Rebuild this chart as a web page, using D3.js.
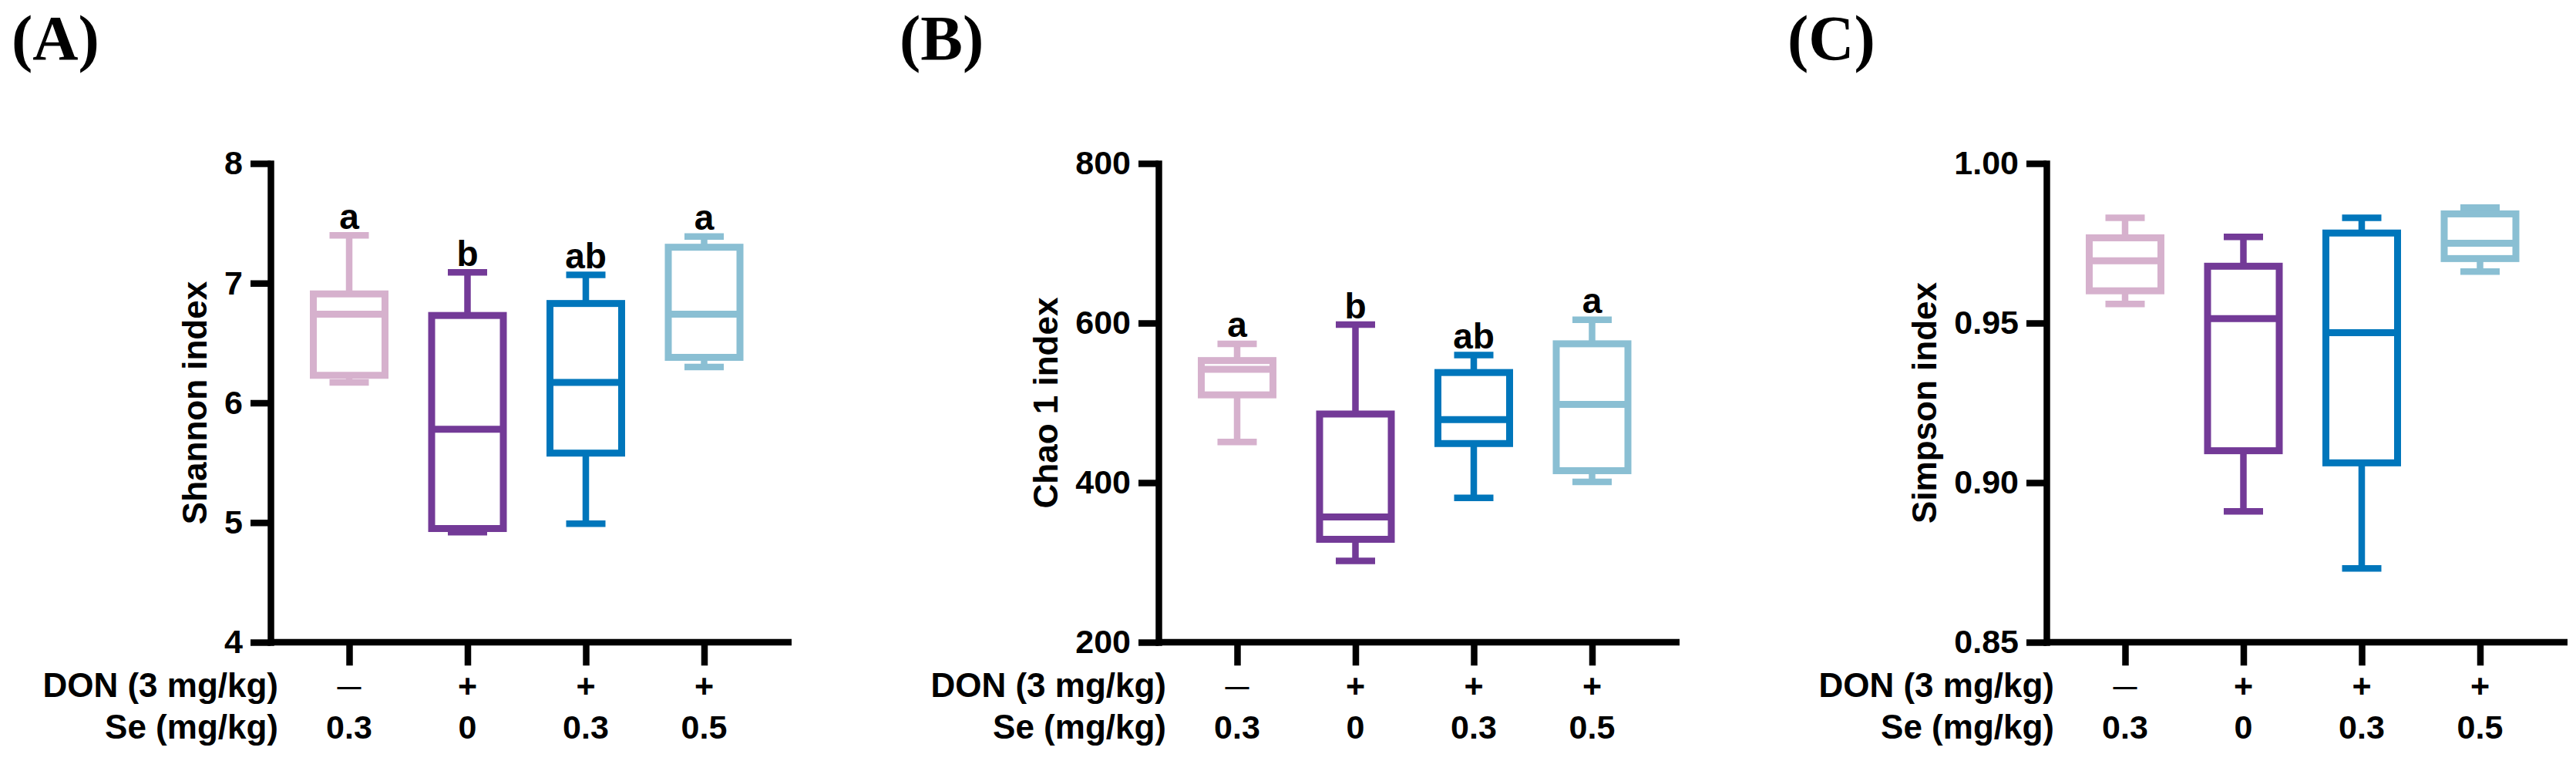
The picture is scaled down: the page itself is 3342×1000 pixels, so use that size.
<!DOCTYPE html>
<html>
<head>
<meta charset="utf-8">
<script src="https://cdn.jsdelivr.net/npm/d3@7"></script>
<style>
  body { margin: 0; background: #fff; }
  text { font-family: Arial, "Liberation Sans", Helvetica, sans-serif; font-weight: bold; fill: #000; }
</style>
</head>
<body>
<script>
// groups along the x axis
var groups = ["ctrl", "don", "donSe03", "donSe05"];
var donLabels = ["—", "+", "+", "+"];
var seLabels = ["0.3", "0", "0.3", "0.5"];
var colors = ["#D6B1CD", "#733A97", "#0076BB", "#8ABFD3"];

// five-number summary per group: [min, q1, median, q3, max]
var shannonStats = [
    [6.17, 6.23, 6.74, 6.91, 7.40],
    [4.92, 4.95, 5.78, 6.73, 7.09],
    [4.99, 5.58, 6.17, 6.83, 7.07],
    [6.30, 6.38, 6.74, 7.30, 7.39]
];
var shannonLetters = ["a", "b", "ab", "a"];
var shannonTicks = [4, 5, 6, 7, 8];

var chaoStats = [
    [451, 510, 542, 553, 574],
    [302, 329, 357, 486, 598],
    [381, 449, 479, 538, 560],
    [401, 415, 498, 574, 604]
];
var chaoLetters = ["a", "b", "ab", "a"];
var chaoTicks = [200, 400, 600, 800];

var simpsonStats = [
    [0.9560, 0.9601, 0.9695, 0.9767, 0.9830],
    [0.8910, 0.9100, 0.9514, 0.9678, 0.9770],
    [0.8731, 0.9062, 0.9470, 0.9782, 0.9830],
    [0.9661, 0.9702, 0.9750, 0.9842, 0.9862]
];
var simpsonLetters = [];
var simpsonTicks = [0.85, 0.90, 0.95, 1.00];

var W = 3342, H = 1000;
var yTop = 212, yBottom = 833;
var lw = 8.5;

var svg = d3.select("body").append("svg")
    .attr("width", W)
    .attr("height", H);

svg.append("rect").attr("width", W).attr("height", H).attr("fill", "#fff");

var panels = [
    {tag: "(A)", ax: 351, title: "Shannon index", stats: shannonStats, letters: shannonLetters, ticks: shannonTicks, fmt: d3.format("d")},
    {tag: "(B)", ax: 1503, title: "Chao 1 index", stats: chaoStats, letters: chaoLetters, ticks: chaoTicks, fmt: d3.format("d")},
    {tag: "(C)", ax: 2655, title: "Simpson index", stats: simpsonStats, letters: simpsonLetters, ticks: simpsonTicks, fmt: d3.format(".2f")}
];

panels.forEach(function (p) {
    var g = svg.append("g");

    var yScale = d3.scaleLinear()
        .domain([p.ticks[0], p.ticks[p.ticks.length - 1]])
        .range([yBottom, yTop]);

    var xScale = d3.scalePoint()
        .domain(groups)
        .range([p.ax + 102, p.ax + 102 + 3 * 153.5]);

    // panel tag
    g.append("text")
        .attr("x", p.ax - 336)
        .attr("y", 77)
        .style("font-family", "'Liberation Serif', 'Times New Roman', serif")
        .style("font-size", "82px")
        .text(p.tag);

    // x axis baseline and category ticks
    g.append("line")
        .attr("x1", p.ax).attr("x2", p.ax + 676)
        .attr("y1", yBottom).attr("y2", yBottom)
        .attr("stroke", "#000").attr("stroke-width", lw);

    var xAxis = d3.axisBottom(xScale)
        .tickSize(26 + lw / 2)
        .tickSizeOuter(0)
        .tickFormat("");
    var gx = g.append("g")
        .attr("transform", "translate(0," + yBottom + ")")
        .call(xAxis);
    gx.select(".domain").remove();
    gx.selectAll(".tick line").attr("stroke", "#000").attr("stroke-width", lw);

    // y axis
    var yAxis = d3.axisLeft(yScale)
        .tickValues(p.ticks)
        .tickFormat(p.fmt)
        .tickSize(26)
        .tickSizeOuter(0)
        .tickPadding(10);
    var gy = g.append("g")
        .attr("transform", "translate(" + p.ax + ",0)")
        .call(yAxis);
    gy.select(".domain")
        .attr("stroke", "#000")
        .attr("stroke-width", lw)
        .attr("stroke-linecap", "square");
    gy.selectAll(".tick line").attr("stroke", "#000").attr("stroke-width", lw);
    gy.selectAll(".tick text")
        .style("font-size", "43px")
        .attr("fill", "#000");

    // y title placed left of widest tick label
    var minLeft = d3.min(gy.selectAll(".tick text").nodes(), function (n) {
        return n.getBBox().x;
    });
    g.append("text")
        .attr("transform", "translate(" + (p.ax + minLeft - 23) + "," + ((yTop + yBottom) / 2) + ") rotate(-90)")
        .attr("text-anchor", "middle")
        .style("font-size", "44px")
        .text(p.title);

    // row labels under the axis
    g.append("text")
        .attr("x", p.ax + 10).attr("y", 904)
        .attr("text-anchor", "end")
        .style("font-size", "44px")
        .text("DON (3 mg/kg)");
    g.append("text")
        .attr("x", p.ax + 10).attr("y", 958)
        .attr("text-anchor", "end")
        .style("font-size", "44px")
        .text("Se (mg/kg)");

    g.selectAll(".don")
        .data(groups)
        .enter().append("text")
        .attr("class", "don")
        .attr("x", function (d) { return xScale(d); })
        .attr("y", function (d, i) { return donLabels[i] === "—" ? 901 : 904; })
        .attr("text-anchor", "middle")
        .style("font-size", function (d, i) { return donLabels[i] === "—" ? "31px" : "43px"; })
        .text(function (d, i) { return donLabels[i]; });

    g.selectAll(".se")
        .data(groups)
        .enter().append("text")
        .attr("class", "se")
        .attr("x", function (d) { return xScale(d); })
        .attr("y", 958)
        .attr("text-anchor", "middle")
        .style("font-size", "43px")
        .text(function (d, i) { return seLabels[i]; });

    // boxes
    var boxW = 93, capW = 51;
    var box = g.selectAll(".box")
        .data(groups)
        .enter().append("g")
        .attr("class", "box");

    box.each(function (d, i) {
        var s = p.stats[i];
        var cx = xScale(d);
        var b = d3.select(this);
        var c = colors[i];

        b.append("line")
            .attr("x1", cx).attr("x2", cx)
            .attr("y1", yScale(s[4])).attr("y2", yScale(s[3]))
            .attr("stroke", c).attr("stroke-width", lw);
        b.append("line")
            .attr("x1", cx).attr("x2", cx)
            .attr("y1", yScale(s[1])).attr("y2", yScale(s[0]))
            .attr("stroke", c).attr("stroke-width", lw);
        [s[0], s[4]].forEach(function (v) {
            b.append("line")
                .attr("x1", cx - capW / 2).attr("x2", cx + capW / 2)
                .attr("y1", yScale(v)).attr("y2", yScale(v))
                .attr("stroke", c).attr("stroke-width", lw);
        });
        b.append("rect")
            .attr("x", cx - boxW / 2)
            .attr("y", yScale(s[3]))
            .attr("width", boxW)
            .attr("height", yScale(s[1]) - yScale(s[3]))
            .attr("fill", "none")
            .attr("stroke", c).attr("stroke-width", 9);
        b.append("line")
            .attr("x1", cx - boxW / 2).attr("x2", cx + boxW / 2)
            .attr("y1", yScale(s[2])).attr("y2", yScale(s[2]))
            .attr("stroke", c).attr("stroke-width", 9);

        if (p.letters[i]) {
            b.append("text")
                .attr("x", cx)
                .attr("y", yScale(s[4]) - 8.5)
                .attr("text-anchor", "middle")
                .style("font-size", "46px")
                .text(p.letters[i]);
        }
    });
});
</script>
</body>
</html>
